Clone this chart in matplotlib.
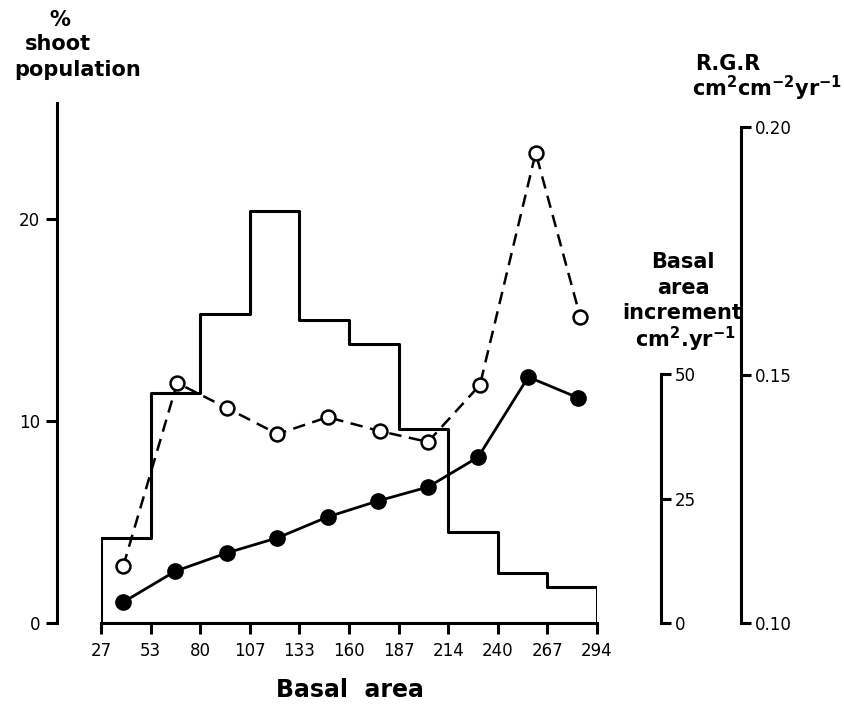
import numpy as np
import matplotlib
matplotlib.use("Agg")
import matplotlib.pyplot as plt

plt.rcParams['font.family'] = ['DejaVu Sans']

# size class edges (basal area, cm2) and tick labels
bin_edges = [27.0, 53.7, 80.4, 107.1, 133.8, 160.5, 187.2, 213.9, 240.6, 267.3, 294.0]
tick_labels = ['27', '53', '80', '107', '133', '160', '187', '214', '240', '267', '294']

# % shoot population in each size class
pct_shoots = [4.2, 11.4, 15.3, 20.4, 15.0, 13.8, 9.6, 4.5, 2.5, 1.8]

# basal area increment (cm2 yr-1), filled circles
bai_x = [39, 67, 95, 122, 149, 176, 203, 230, 257, 284]
bai = [4.2, 10.4, 14.1, 17.1, 21.3, 24.5, 27.3, 33.3, 49.4, 45.2]

# relative growth rate, open circles
rgr_x = [39, 68, 95, 122, 149, 177, 203, 231, 261, 285]
rgr = [0.1115, 0.1484, 0.1433, 0.1381, 0.1415, 0.1387, 0.1365, 0.1480, 0.1948, 0.1617]

W, H = 845, 714
fig = plt.figure(figsize=(W / 100, H / 100), dpi=100)
x0, x1, y0, y1 = 101, 597, 623, 103
ax = fig.add_axes([x0 / W, (H - y0) / H, (x1 - x0) / W, (y0 - y1) / H])

lw = 2.2
fs = 12

# histogram
heights = pct_shoots + [pct_shoots[-1]]
ax.step(bin_edges, heights, where='post', color='black', lw=lw)
ax.plot([bin_edges[0], bin_edges[0]], [0, pct_shoots[0]], color='black', lw=lw)
ax.plot([bin_edges[-1], bin_edges[-1]], [0, pct_shoots[-1]], color='black', lw=lw)

ax.set_xlim(bin_edges[0], bin_edges[-1])
ax.set_ylim(0, (y0 - y1) / 20.2)
ax.set_xticks(bin_edges)
ax.set_xticklabels(tick_labels)
ax.set_yticks([0, 10, 20])
for s in ['top', 'right']:
    ax.spines[s].set_visible(False)
ax.spines['left'].set_position(('outward', 44 * 0.72))
ax.spines['left'].set_linewidth(lw)
ax.spines['bottom'].set_linewidth(lw)
ax.tick_params(axis='both', width=lw, length=8, labelsize=fs, pad=4)
ax.tick_params(axis='x', length=8, pad=6)
ax.patch.set_visible(False)

# basal area increment axis
ax2 = ax.twinx()
ax2.set_ylim(0, (y0 - y1) / 4.98)
ax2.plot(bai_x, bai, '-o', color='black', lw=2.0, ms=11, zorder=4)
for s in ['top', 'left', 'bottom']:
    ax2.spines[s].set_visible(False)
ax2.spines['right'].set_position(('outward', 64 * 0.72))
ax2.spines['right'].set_bounds(0, 50)
ax2.spines['right'].set_linewidth(lw)
ax2.set_yticks([0, 25, 50])
ax2.tick_params(axis='y', width=lw, length=7, labelsize=fs, pad=3)
ax2.patch.set_visible(False)

# RGR axis
ax3 = ax.twinx()
ax3.set_ylim(0.10, 0.10 + (y0 - y1) / 4960)
ax3.plot(rgr_x, rgr, linestyle=(0, (5, 3)), marker='o', color='black', lw=1.8,
         ms=10, mfc='white', mec='black', mew=1.8, zorder=5)
for s in ['top', 'left', 'bottom']:
    ax3.spines[s].set_visible(False)
ax3.spines['right'].set_position(('outward', 144 * 0.72))
ax3.spines['right'].set_bounds(0.10, 0.20)
ax3.spines['right'].set_linewidth(lw)
ax3.set_yticks([0.10, 0.15, 0.20])
ax3.set_yticklabels(['0.10', '0.15', '0.20'])
ax3.tick_params(axis='y', width=lw, length=7, labelsize=fs, pad=3)
ax3.patch.set_visible(False)

tk = dict(fontsize=15, fontweight='bold', ha='center', va='center')
fig.text(60 / W, 1 - 20 / H, '%', **tk)
fig.text(58 / W, 1 - 44 / H, 'shoot', **tk)
fig.text(78 / W, 1 - 70 / H, 'population', **tk)

fig.text(728 / W, 1 - 64 / H, 'R.G.R', **tk)
fig.text(767 / W, 1 - 88 / H, r'cm$^{\mathbf{2}}$cm$^{\mathbf{-2}}$yr$^{\mathbf{-1}}$', **tk)

fig.text(683 / W, 1 - 262 / H, 'Basal', **tk)
fig.text(683 / W, 1 - 288 / H, 'area', **tk)
fig.text(682 / W, 1 - 313 / H, 'increment', **tk)
fig.text(685 / W, 1 - 339 / H, r'cm$^{\mathbf{2}}$.yr$^{\mathbf{-1}}$', **tk)

fig.text(350 / W, 1 - 690 / H, 'Basal  area', fontsize=17, fontweight='bold',
         ha='center', va='center')

fig.savefig('out.png', dpi=100)
